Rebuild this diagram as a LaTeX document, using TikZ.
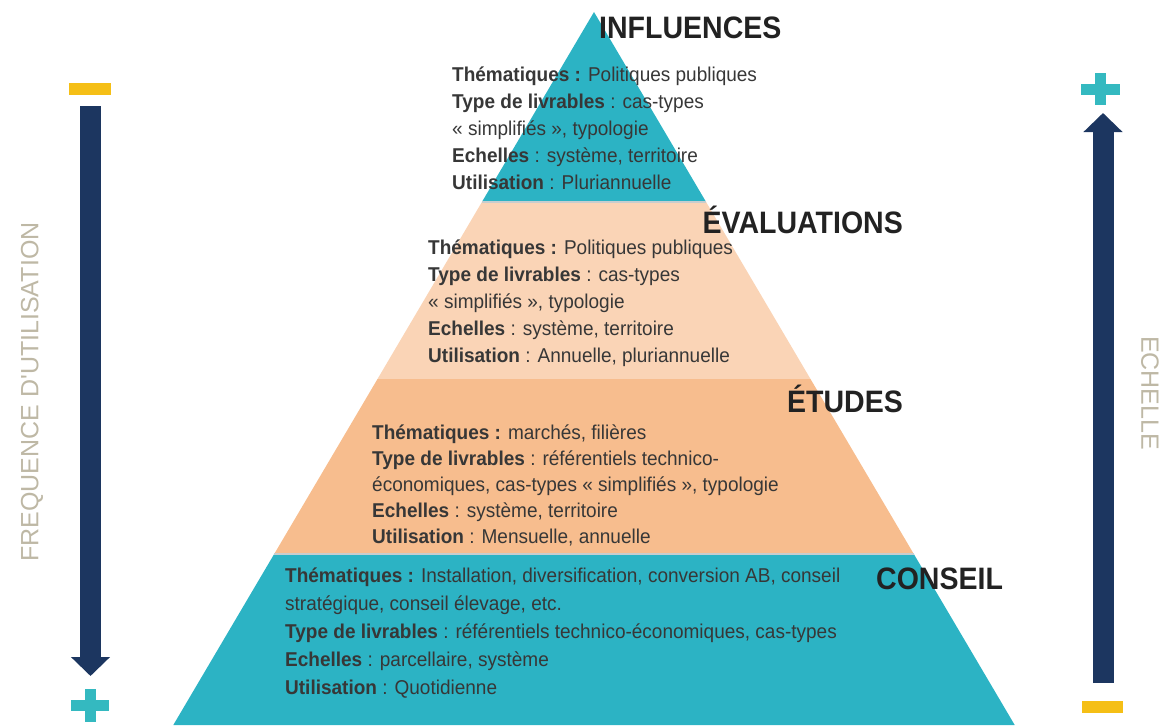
\documentclass[tikz,border=0pt]{standalone}
\usepackage{fontspec}
\setmainfont{Liberation Sans}
\newfontfamily\bodyfont[FakeStretch=0.95]{Liberation Sans}
\newfontfamily\titlefont[FakeStretch=0.92]{Liberation Sans}
\newfontfamily\axisfont{Liberation Sans}
\usetikzlibrary{arrows.meta}
\definecolor{tealband}{RGB}{44,179,196}
\definecolor{peachlight}{RGB}{250,212,182}
\definecolor{peach}{RGB}{247,189,142}
\definecolor{navy}{RGB}{28,54,96}
\definecolor{signyellow}{RGB}{245,191,22}
\definecolor{signteal}{RGB}{52,185,192}
\definecolor{axisgray}{RGB}{190,184,165}
\definecolor{bodytext}{RGB}{55,55,55}
\definecolor{titletext}{RGB}{34,34,34}
\definecolor{sepline}{RGB}{200,205,206}
\begin{document}
\begin{tikzpicture}[x=1pt,y=-1pt,
  bandtext/.style={anchor=north west,inner sep=0pt,align=left,text=bodytext,
    font=\bodyfont\fontsize{20}{27}\selectfont},
  title/.style={inner sep=0pt,text=titletext,font=\titlefont\bfseries\fontsize{31}{31}\selectfont},
  axislabel/.style={inner sep=0pt,text=axisgray,font=\axisfont\fontsize{25}{25}\selectfont},
  bigarrow/.style={draw=navy,line width=21pt,-{Triangle[length=19pt,width=38pt]}},
  minusbar/.style={fill=signyellow},
  plusbar/.style={fill=signteal},
  sep/.style={draw=sepline,line width=2.5pt}
]
\useasboundingbox (0,0) rectangle (1166,725);

% pyramid coordinates
\coordinate (apex) at (594,12);
\coordinate (l1) at (481.9,202);  \coordinate (r1) at (706.1,202);
\coordinate (l2) at (377.5,379);  \coordinate (r2) at (810.5,379);
\coordinate (l3) at (274.2,554);  \coordinate (r3) at (913.8,554);
\coordinate (l4) at (173.3,725);  \coordinate (r4) at (1014.7,725);

% bands
\fill[tealband] (apex) -- (r1) -- (l1) -- cycle;
\fill[peachlight] (l1) -- (r1) -- (r2) -- (l2) -- cycle;
\fill[peach] (l2) -- (r2) -- (r3) -- (l3) -- cycle;
\fill[tealband] (l3) -- (r3) -- (r4) -- (l4) -- cycle;
\draw[sep] (l1) -- (r1);
\draw[sep] (l3) -- (r3);

% titles
\node[title,anchor=base west] (tInfl) at (599,38) {INFLUENCES};
\node[title,anchor=base east] (tEval) at (903,233) {ÉVALUATIONS};
\node[title,anchor=base east] (tEtud) at (903,412) {ÉTUDES};
\node[title,anchor=base west] (tCons) at (876,589) {CONSEIL};

% band texts
\node[bandtext] (xInfl) at (452,67) {%
\textbf{Thématiques :} Politiques  publiques\\
\textbf{Type de livrables} : cas-types\\
« simplifiés  », typologie\\
\textbf{Echelles} : système,  territoire\\
\textbf{Utilisation} : Pluriannuelle};

\node[bandtext] (xEval) at (428,240) {%
\textbf{Thématiques :} Politiques  publiques\\
\textbf{Type de livrables} : cas-types\\
« simplifiés  », typologie\\
\textbf{Echelles} : système,  territoire\\
\textbf{Utilisation} : Annuelle,  pluriannuelle};

\node[bandtext,font=\bodyfont\fontsize{20}{26}\selectfont] (xEtud) at (372,425) {%
\textbf{Thématiques :} marchés,  filières\\
\textbf{Type de livrables} : référentiels  technico-\\
économiques,  cas-types « simplifiés  », typologie\\
\textbf{Echelles} : système,  territoire\\
\textbf{Utilisation} : Mensuelle,  annuelle};

\node[bandtext,font=\bodyfont\fontsize{20}{28}\selectfont] (xCons) at (285,568) {%
\textbf{Thématiques :} Installation,  diversification,  conversion AB,  conseil\\
stratégique,  conseil élevage,  etc.\\
\textbf{Type de livrables} : référentiels  technico-économiques,  cas-types\\
\textbf{Echelles} : parcellaire,  système\\
\textbf{Utilisation} : Quotidienne};

% left axis
\fill[minusbar] (69,83) rectangle (111,95);
\coordinate (laStart) at (90.5,106);
\coordinate (laEnd) at (90.5,676);
\draw[bigarrow] (laStart) -- (laEnd);
\fill[plusbar] (71,700) rectangle (109,711);
\fill[plusbar] (84.5,689) rectangle (95.5,722);
\node[axislabel,rotate=90] (axLeft) at (32,392) {FREQUENCE D'UTILISATION};

% right axis
\fill[plusbar] (1081,83.5) rectangle (1120,94.5);
\fill[plusbar] (1095,73) rectangle (1106,105);
\coordinate (raStart) at (1103,683);
\coordinate (raEnd) at (1103,113);
\draw[bigarrow] (raStart) -- (raEnd);
\fill[minusbar] (1082,701) rectangle (1123,713);
\node[axislabel,rotate=-90] (axRight) at (1150,393) {ECHELLE};
\end{tikzpicture}
\end{document}
